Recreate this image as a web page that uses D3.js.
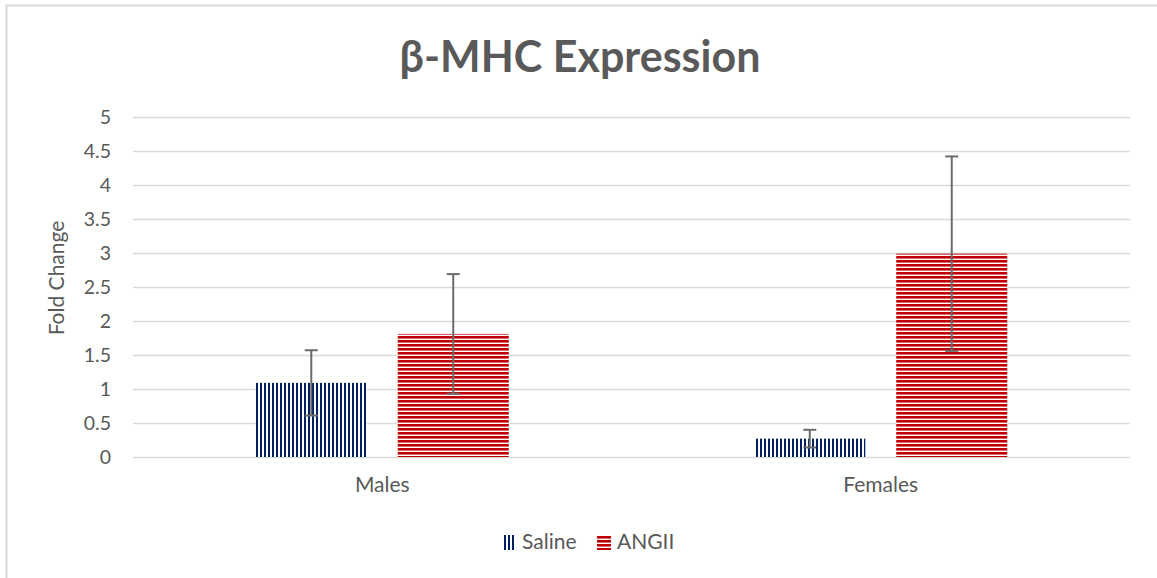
<!DOCTYPE html>
<html><head><meta charset="utf-8">
<script src="https://cdn.jsdelivr.net/npm/d3@7"></script>
<style>body{margin:0;background:#fff}svg{display:block}text{font-family:Lato,"Open Sans",sans-serif}</style>
</head><body>
<svg id="c" width="1157" height="578"></svg>
<script>
const categories = ["Males", "Females"];
const series = ["Saline", "ANGII"];
const salineValues = [1.09, 0.27];
const salineErrors = [0.48, 0.13];
const angiiValues = [1.81, 2.99];
const angiiErrors = [0.88, 1.43];
const yTicks = [0, 0.5, 1, 1.5, 2, 2.5, 3, 3.5, 4, 4.5, 5];
const title = "β-MHC Expression";
const yTitle = "Fold Change";

const svg = d3.select("#c");
const textColor = "#595959";
const gridColor = "#d9d9d9";

// border
svg.append("rect").attr("x", 6.5).attr("y", 5.5).attr("width", 1160).attr("height", 600)
  .attr("fill", "none").attr("stroke", gridColor).attr("stroke-width", 2);

const defs = svg.append("defs");
const pv = defs.append("pattern").attr("id", "pSaline").attr("patternUnits", "userSpaceOnUse")
  .attr("width", 4).attr("height", 4);
pv.append("rect").attr("width", 4).attr("height", 4).attr("fill", "#fff");
pv.append("rect").attr("x", 0).attr("width", 2).attr("height", 4).attr("fill", "#002060");
const ph = defs.append("pattern").attr("id", "pAngii").attr("patternUnits", "userSpaceOnUse")
  .attr("width", 4).attr("height", 4);
ph.append("rect").attr("width", 4).attr("height", 4).attr("fill", "#fff");
ph.append("rect").attr("y", 0).attr("width", 4).attr("height", 2.6).attr("fill", "#C00000");

const y = d3.scaleLinear().domain([0, 5]).range([457, 117]);
const x0 = d3.scaleBand().domain(categories).range([133, 1130]).padding(0);
const bw0 = x0.bandwidth();
const groupW = bw0 * 0.5075;
const x1 = d3.scaleBand().domain(series).range([(bw0 - groupW) / 2, (bw0 + groupW) / 2])
  .paddingInner(0.218).paddingOuter(0);

// gridlines
svg.append("g").selectAll("line").data(yTicks).join("line")
  .attr("x1", 133).attr("x2", 1130)
  .attr("y1", d => Math.round(y(d)) + 0.5).attr("y2", d => Math.round(y(d)) + 0.5)
  .attr("stroke", gridColor).attr("stroke-width", 1.5);

// y axis labels
const yAxis = d3.axisLeft(y).tickValues(yTicks).tickSize(0).tickPadding(0).tickFormat(d3.format("~g"));
const ya = svg.append("g").attr("transform", "translate(111,0)").call(yAxis);
ya.select(".domain").remove();
ya.selectAll("text").attr("fill", textColor).style("font-size", "19.5px").style("font-family", "Lato");

// x axis labels
const xAxis = d3.axisBottom(x0).tickSize(0).tickPadding(0);
const xa = svg.append("g").attr("transform", "translate(0,477)").call(xAxis);
xa.select(".domain").remove();
xa.selectAll("text").attr("fill", textColor).style("font-size", "21px").style("font-family", "Lato");

const data = [];
categories.forEach((c, i) => {
  data.push({cat: c, s: "Saline", v: salineValues[i], e: salineErrors[i]});
  data.push({cat: c, s: "ANGII", v: angiiValues[i], e: angiiErrors[i]});
});

svg.append("g").selectAll("rect").data(data).join("rect")
  .attr("x", d => x0(d.cat) + x1(d.s))
  .attr("y", d => y(d.v))
  .attr("width", x1.bandwidth())
  .attr("height", d => y(0) - y(d.v))
  .attr("fill", d => d.s === "Saline" ? "url(#pSaline)" : "url(#pAngii)");

// error bars
const eg = svg.append("g").attr("stroke", "#6b6b6b").attr("stroke-width", 2);
data.forEach(d => {
  const cx = x0(d.cat) + x1(d.s) + x1.bandwidth() / 2;
  eg.append("line").attr("x1", cx).attr("x2", cx).attr("y1", y(d.v + d.e)).attr("y2", y(d.v - d.e));
  eg.append("line").attr("x1", cx - 6.5).attr("x2", cx + 6.5).attr("y1", y(d.v + d.e)).attr("y2", y(d.v + d.e));
  eg.append("line").attr("x1", cx - 6.5).attr("x2", cx + 6.5).attr("y1", y(d.v - d.e)).attr("y2", y(d.v - d.e));
});

// title
svg.append("text").attr("x", 580).attr("y", 72).attr("text-anchor", "middle")
  .attr("fill", textColor).style("font-size", "43px").style("font-weight", "bold").text(title);

// y title
svg.append("text").attr("transform", "translate(64,278) rotate(-90)").attr("text-anchor", "middle")
  .attr("fill", textColor).style("font-size", "21px").text(yTitle);

// legend
const legend = [{s: "Saline", x: 502, fill: "url(#pSaline)"}, {s: "ANGII", x: 597, fill: "url(#pAngii)"}];
const lg = svg.append("g");
legend.forEach(l => {
  lg.append("rect").attr("x", l.x).attr("y", 535).attr("width", 14).attr("height", 15).attr("fill", l.fill);
  lg.append("text").attr("x", l.x + 20).attr("y", 549).attr("fill", textColor).style("font-size", "21px").text(l.s);
});
</script>
</body></html>
